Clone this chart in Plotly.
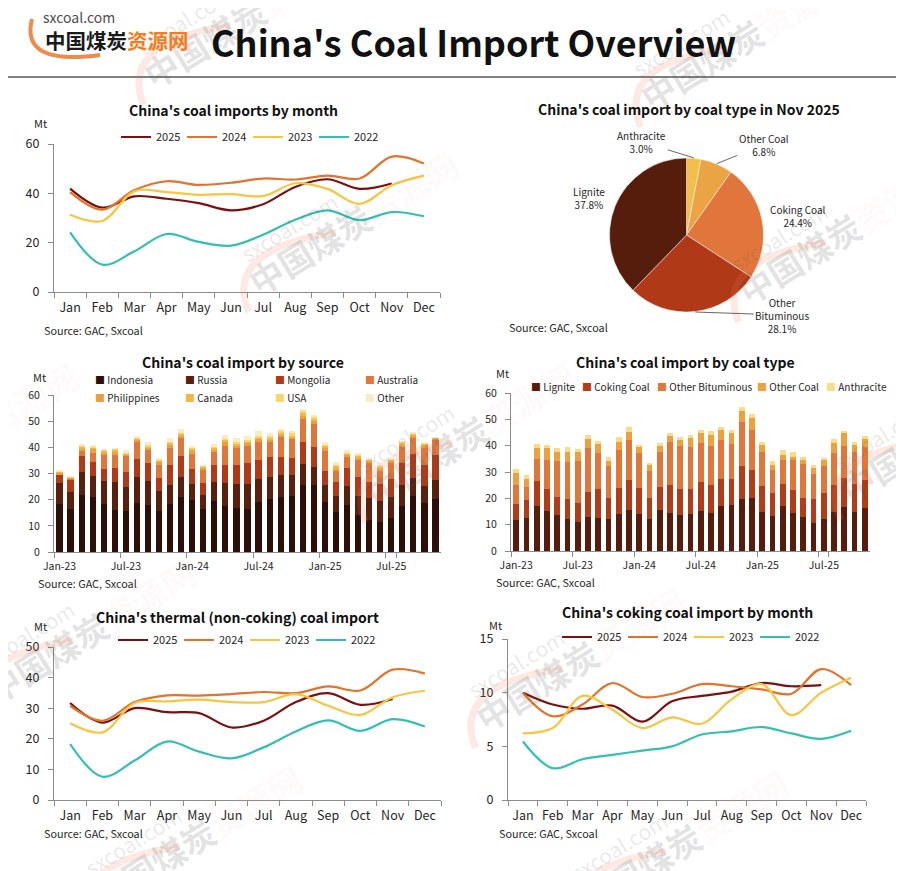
import math

import plotly.graph_objects as go

# the page adds an 8px body margin, so the figure is drawn 8px in and 16px smaller
OFF = 8
W, H = 904 - OFF, 871 - OFF


def px(x):
    return (x - OFF) / W


def py(y):
    return 1 - (y - OFF) / H


# ── Data ─────────────────────────────────────────────────────
MONTHS = ["Jan", "Feb", "Mar", "Apr", "May", "Jun",
          "Jul", "Aug", "Sep", "Oct", "Nov", "Dec"]
YEARS = ["2025", "2024", "2023", "2022"]

# total coal imports by month, Mt
imports_2025 = [41.9, 34.2, 38.8, 37.8, 36.0, 33.1, 35.6, 42.6, 45.7, 41.8, 44.0]
imports_2024 = [40.5, 33.4, 41.3, 44.9, 43.4, 44.3, 46.0, 45.6, 47.2, 46.0, 54.9, 52.1]
imports_2023 = [31.3, 28.8, 40.9, 40.5, 39.4, 39.7, 38.9, 44.1, 41.8, 35.7, 43.3, 47.2]
imports_2022 = [24.2, 11.1, 16.5, 23.5, 20.3, 18.8, 23.2, 29.3, 33.1, 29.1, 32.4, 30.7]

# thermal (non-coking) coal imports, Mt
thermal_2025 = [31.7, 25.3, 30.0, 28.7, 28.4, 23.7, 25.9, 32.0, 34.9, 31.1, 33.0]
thermal_2024 = [30.8, 25.9, 32.0, 34.2, 34.1, 34.6, 35.3, 34.9, 37.1, 35.8, 42.6, 41.3]
thermal_2023 = [25.1, 22.1, 31.7, 32.2, 32.8, 32.0, 32.0, 34.6, 30.8, 27.8, 33.6, 35.7]
thermal_2022 = [18.3, 7.6, 12.9, 19.1, 15.8, 13.6, 17.2, 22.4, 26.0, 22.6, 26.4, 24.0]

# coking coal imports, Mt
coking_2025 = [10.0, 8.9, 8.5, 8.8, 7.3, 9.2, 9.7, 10.1, 10.9, 10.6, 10.7]
coking_2024 = [10.0, 7.8, 8.9, 10.9, 9.6, 9.9, 10.8, 10.6, 10.3, 9.9, 12.2, 10.7]
coking_2023 = [6.2, 6.7, 9.7, 8.4, 6.7, 7.7, 7.1, 9.4, 10.8, 7.9, 10.0, 11.4]
coking_2022 = [5.45, 2.96, 3.8, 4.2, 4.6, 5.0, 6.1, 6.4, 6.8, 6.2, 5.7, 6.45]

# Jan-23 .. Nov-25
BAR_MONTHS = [f"{m}-{y}" for y in ("23", "24", "25") for m in MONTHS][:35]
BAR_TICKS = ["Jan-23", "Jul-23", "Jan-24", "Jul-24", "Jan-25", "Jul-25"]

# imports by source, Mt
src_indonesia = [18.3, 16.4, 21.7, 20.9, 18.3, 16.1, 15.6, 18.7, 17.9, 15.6, 18.3, 20.9,
                 19.8, 16.4, 19.4, 17.6, 16.8, 16.4, 19.0, 20.2, 20.9, 21.3, 25.5, 25.5,
                 19.0, 15.2, 17.9, 14.1, 12.2, 11.4, 12.9, 17.5, 21.3, 18.7, 20.2]
src_russia = [8.0, 6.4, 8.8, 8.0, 8.7, 10.5, 9.1, 9.9, 9.1, 7.8, 7.2, 7.7,
              6.1, 5.3, 7.2, 8.7, 9.1, 9.5, 8.8, 8.4, 8.4, 8.0, 8.0, 6.9,
              6.5, 6.1, 7.2, 7.2, 8.4, 8.0, 8.0, 8.0, 6.9, 6.4, 7.2]
src_mongolia = [3.4, 5.0, 6.0, 5.4, 4.6, 5.4, 5.8, 6.8, 6.9, 4.8, 7.6, 7.9,
                5.7, 4.6, 6.5, 6.8, 7.2, 8.0, 7.2, 7.6, 6.9, 6.5, 8.4, 7.6,
                5.3, 5.3, 6.9, 7.3, 6.0, 6.5, 6.9, 8.4, 9.1, 8.0, 9.5]
src_australia = [0.1, 0.1, 2.0, 3.6, 5.3, 4.9, 6.2, 6.9, 5.1, 4.9, 6.5, 6.9,
                 5.8, 4.9, 5.1, 7.3, 6.5, 6.8, 7.3, 6.1, 7.6, 7.2, 9.1, 9.1,
                 7.7, 4.2, 4.2, 6.8, 7.7, 5.3, 6.5, 6.6, 6.2, 6.9, 6.1]
src_philippines = [0.4, 0.4, 1.2, 1.3, 1.2, 1.3, 0.4, 0.6, 1.0, 1.3, 1.5, 1.0,
                   1.3, 0.9, 1.1, 1.5, 1.2, 0.8, 0.7, 0.7, 1.1, 0.8, 1.3, 0.9,
                   1.1, 1.2, 0.9, 0.6, 0.6, 0.7, 0.5, 0.7, 0.8, 0.6, 0.3]
src_canada = [0.4, 0.3, 0.7, 0.8, 0.6, 0.8, 0.6, 0.5, 0.5, 0.6, 0.7, 0.7,
              0.8, 0.5, 0.7, 1.0, 0.7, 0.8, 0.8, 0.7, 0.8, 0.7, 0.7, 0.8,
              0.8, 0.7, 0.7, 0.9, 0.4, 0.8, 0.5, 0.7, 0.9, 0.8, 0.4]
src_usa = [0.2, 0.1, 0.3, 0.3, 0.3, 0.4, 0.5, 0.3, 0.4, 0.4, 0.4, 0.4,
           0.5, 0.3, 0.4, 0.4, 0.4, 0.4, 0.5, 0.8, 0.7, 1.0, 1.1, 0.8,
           0.8, 0.9, 0.4, 0.5, 0.2, 0.2, 0.1, 0.3, 0.2, 0.2, 0.1]
src_other = [0.4, 0.2, 0.4, 0.4, 0.3, 0.3, 0.6, 0.5, 1.0, 0.3, 1.2, 1.6,
             0.4, 0.3, 0.7, 1.6, 1.5, 1.5, 1.8, 1.0, 0.7, 0.6, 0.6, 0.6,
             0.7, 0.7, 0.6, 0.4, 0.1, 0.2, 0.1, 0.2, 0.2, 0.2, 0.1]

# imports by coal type, Mt
typ_lignite = [11.7, 12.6, 17.0, 15.1, 13.6, 12.1, 10.9, 12.8, 12.5, 12.1, 14.0, 15.5,
               14.0, 12.1, 15.5, 14.4, 13.6, 14.0, 15.1, 14.4, 17.0, 17.4, 19.7, 20.1,
               14.7, 13.2, 17.0, 14.4, 12.8, 10.5, 12.1, 14.7, 16.6, 14.7, 16.3]
typ_coking = [6.1, 6.7, 9.6, 8.4, 6.9, 7.6, 7.3, 9.6, 11.0, 8.0, 9.9, 11.4,
              9.9, 8.0, 8.8, 10.6, 9.9, 9.5, 11.1, 10.6, 10.3, 9.9, 12.6, 10.6,
              10.0, 8.8, 8.4, 8.7, 7.3, 9.2, 9.9, 10.3, 11.1, 10.7, 10.6]
typ_other_bit = [7.2, 5.0, 8.3, 11.1, 13.7, 14.1, 16.0, 16.7, 13.7, 12.2, 14.5, 15.3,
                 13.3, 10.3, 13.3, 16.4, 16.4, 16.0, 14.8, 14.9, 14.9, 13.4, 16.7, 15.3,
                 12.9, 8.7, 9.2, 11.5, 12.9, 9.5, 10.3, 12.2, 12.2, 12.2, 12.6]
typ_other_coal = [4.7, 3.0, 4.2, 4.5, 3.4, 3.8, 3.4, 3.5, 3.5, 1.9, 3.0, 3.0,
                  2.3, 2.3, 2.3, 2.3, 2.3, 3.4, 3.9, 4.2, 3.8, 4.2, 4.2, 4.6,
                  2.7, 2.0, 1.9, 1.1, 1.6, 2.3, 2.3, 3.8, 5.0, 2.7, 3.1]
typ_anthracite = [1.4, 1.5, 1.6, 1.2, 1.4, 1.9, 1.2, 1.5, 1.1, 1.5, 1.9, 1.9,
                  0.9, 0.7, 1.1, 1.2, 1.1, 1.2, 1.1, 1.5, 1.1, 1.1, 1.6, 1.5,
                  1.1, 1.5, 1.9, 1.9, 1.1, 1.2, 0.7, 1.6, 0.7, 1.1, 1.1]

# Nov 2025 share by coal type, %
pie_labels = ["Anthracite", "Other Coal", "Coking Coal", "Other Bituminous", "Lignite"]
pie_values = [3.0, 6.8, 24.4, 28.1, 37.8]

# ── Styles ───────────────────────────────────────────────────
FONT = "Noto Sans CJK SC"
TXT = "#262626"
AXIS = "#8C8C8C"
LINE_COLORS = ["#7A1010", "#E2732A", "#F7C540", "#33BFB1"]
SRC_COLORS = ["#2E0F07", "#5A200E", "#B03A18", "#E0773A",
              "#EBA03F", "#F2B942", "#F7D66E", "#FBEBC4"]
TYP_COLORS = ["#571C0C", "#B23C17", "#E0763A", "#EBA13F", "#F9DC8A"]
PIE_COLORS = ["#F3BE4A", "#EBA444", "#E0763C", "#B03A17", "#561C0C"]

fig = go.Figure()

# ── Line panels ──────────────────────────────────────────────
line_panels = [
    ("x", "y", "legend", [imports_2025, imports_2024, imports_2023, imports_2022]),
    ("x4", "y4", "legend2", [thermal_2025, thermal_2024, thermal_2023, thermal_2022]),
    ("x5", "y5", "legend3", [coking_2025, coking_2024, coking_2023, coking_2022]),
]
for xa, ya, lg, series in line_panels:
    for year, vals, col in zip(YEARS, series, LINE_COLORS):
        fig.add_trace(go.Scatter(
            x=MONTHS[:len(vals)], y=vals, mode="lines", name=year,
            line=dict(color=col, width=2.2, shape="spline", smoothing=1),
            xaxis=xa, yaxis=ya, legend=lg, hoverinfo="x+y+name",
        ))

# ── Stacked bars: by source ──────────────────────────────────
src_names = ["Indonesia", "Russia", "Mongolia", "Australia",
             "Philippines", "Canada", "USA", "Other"]
src_series = [src_indonesia, src_russia, src_mongolia, src_australia,
              src_philippines, src_canada, src_usa, src_other]
for name, vals, col in zip(src_names, src_series, SRC_COLORS):
    fig.add_trace(go.Bar(x=BAR_MONTHS, y=vals, name=name, marker_color=col,
                         marker_line_width=0, width=0.56, showlegend=False,
                         xaxis="x2", yaxis="y2"))

# ── Stacked bars: by coal type ───────────────────────────────
typ_names = ["Lignite", "Coking Coal", "Other Bituminous", "Other Coal", "Anthracite"]
typ_series = [typ_lignite, typ_coking, typ_other_bit, typ_other_coal, typ_anthracite]
for name, vals, col in zip(typ_names, typ_series, TYP_COLORS):
    fig.add_trace(go.Bar(x=BAR_MONTHS, y=vals, name=name, marker_color=col,
                         marker_line_width=0, width=0.56, showlegend=False,
                         xaxis="x3", yaxis="y3"))

# ── Pie (labels drawn as annotations with leader lines) ──────
PIE_X0, PIE_X1, PIE_Y0, PIE_Y1 = 609, 764, 158, 312
fig.add_trace(go.Pie(
    labels=pie_labels, values=pie_values, textinfo="none",
    sort=False, direction="clockwise", rotation=0,
    marker=dict(colors=PIE_COLORS, line=dict(color="rgba(255,255,255,0.6)", width=0.8)),
    domain=dict(x=[px(PIE_X0), px(PIE_X1)], y=[py(PIE_Y1), py(PIE_Y0)]),
    showlegend=False, hoverinfo="label+percent",
))


# ── Axes ─────────────────────────────────────────────────────
def x_axis(x0, x1, anchor, cats, tickvals=None, size=12.5):
    ax = dict(domain=[px(x0), px(x1)], anchor=anchor, type="category",
              categoryorder="array", categoryarray=cats,
              range=[-0.5, len(cats) - 0.5], tickson="boundaries",
              ticks="outside", ticklen=5, tickcolor=AXIS, showline=True,
              linecolor=AXIS, linewidth=1, showgrid=False, zeroline=False,
              tickangle=0, automargin=False,
              tickfont=dict(family=FONT, size=size, color=TXT),
              ticklabelstandoff=4, fixedrange=True)
    if tickvals is not None:
        ax.update(tickmode="array", tickvals=tickvals, ticktext=tickvals)
    return ax


def y_axis(ytop, ybot, anchor, ymax, dtick, size=12.5):
    return dict(domain=[py(ybot), py(ytop)], anchor=anchor, range=[0, ymax],
                dtick=dtick, ticks="outside", ticklen=5, tickcolor=AXIS,
                showline=True, linecolor=AXIS, linewidth=1, showgrid=False,
                zeroline=False, automargin=False,
                tickfont=dict(family=FONT, size=size, color=TXT),
                ticklabelstandoff=6, fixedrange=True)


fig.update_layout(
    xaxis=x_axis(54, 440, "y", MONTHS),
    yaxis=y_axis(144, 292, "x", 60, 20),
    xaxis2=x_axis(54, 441, "y2", BAR_MONTHS, BAR_TICKS, 10.5),
    yaxis2=y_axis(395, 552, "x2", 60, 10, 10.5),
    xaxis3=x_axis(511, 870, "y3", BAR_MONTHS, BAR_TICKS, 10.5),
    yaxis3=y_axis(393, 551, "x3", 60, 10, 10.5),
    xaxis4=x_axis(54, 441, "y4", MONTHS),
    yaxis4=y_axis(647, 800, "x4", 50, 10),
    xaxis5=x_axis(508, 866, "y5", MONTHS),
    yaxis5=y_axis(639, 800, "x5", 15, 5),
)


# ── Legends for the line panels ──────────────────────────────
def line_legend(x, y):
    return dict(orientation="h", x=px(x), y=py(y), xanchor="left", yanchor="middle",
                bgcolor="rgba(0,0,0,0)", font=dict(family=FONT, size=11, color=TXT),
                entrywidth=21, entrywidthmode="pixels", traceorder="normal",
                itemclick=False, itemdoubleclick=False)


fig.update_layout(
    legend=line_legend(116, 137),
    legend2=line_legend(113, 640),
    legend3=line_legend(557, 637),
)

ann = []
shapes = []

# ── Background watermarks (tilted site logo) ─────────────────
WM_ANGLE = math.radians(31.5)
WM_UX, WM_UY = math.cos(WM_ANGLE), -math.sin(WM_ANGLE)   # along the text
WM_PX, WM_PY = -math.sin(WM_ANGLE), -math.cos(WM_ANGLE)  # "up" from the text
wm_centres = [(248, 15), (745, 37), (353, 222), (843, 232), (-27, 433),
              (470, 433), (945, 430), (90, 630), (580, 658), (197, 836), (683, 841)]


def rot(cx, cy, a, b):
    return cx + a * WM_UX + b * WM_PX, cy + a * WM_UY + b * WM_PY


for cx, cy in wm_centres:
    ann.append(dict(
        x=px(cx), y=py(cy), xref="paper", yref="paper", showarrow=False,
        textangle=-31.5, xanchor="center", yanchor="middle",
        text='<b>中国煤炭<span style="color:rgba(240,110,70,0.27)">资源网</span></b>',
        font=dict(family=FONT, size=34, color="rgba(80,80,80,0.17)"),
    ))
    sx, sy = rot(cx, cy, -57, 29)
    ann.append(dict(
        x=px(sx), y=py(sy), xref="paper", yref="paper", showarrow=False,
        textangle=-31.5, xanchor="center", yanchor="middle", text="sxcoal.com",
        font=dict(family=FONT, size=21, color="rgba(80,80,80,0.13)"),
    ))
    p0 = rot(cx, cy, -136, -22)
    c1 = rot(cx, cy, -125, 45)
    p1 = rot(cx, cy, -20, 0)
    shapes.append(dict(
        type="path", xref="paper", yref="paper", layer="above",
        path=(f"M {px(p0[0])},{py(p0[1])} Q {px(c1[0])},{py(c1[1])} "
              f"{px(p1[0])},{py(p1[1])}"),
        line=dict(color="rgba(240,120,80,0.16)", width=7),
    ))


# ── Text ─────────────────────────────────────────────────────
def text(x, y, s, size=11, bold=False, xanchor="left", color=TXT, family=FONT):
    ann.append(dict(x=px(x), y=py(y), xref="paper", yref="paper", showarrow=False,
                    text=f"<b>{s}</b>" if bold else s, xanchor=xanchor, yanchor="middle",
                    font=dict(family=family, size=size, color=color)))


text(209, 41, "China's Coal Import Overview", size=36, bold=True, color="#111111")
text(41, 17.5, "sxcoal.com", size=14, color="#4D4D4D")
text(43, 40, '中国煤炭<span style="color:#F47B20">资源网</span>', size=20.5, bold=True,
     color="#1A1A1A")

TITLE = 14
text(233, 110, "China's coal imports by month", TITLE, True, "center", "#111111")
text(689, 109, "China's coal import by coal type in Nov 2025", TITLE, True, "center", "#111111")
text(243, 362, "China's coal import by source", TITLE, True, "center", "#111111")
text(685, 362, "China's coal import by coal type", TITLE, True, "center", "#111111")
text(238, 617, "China's thermal (non-coking) coal import", TITLE, True, "center", "#111111")
text(687, 612, "China's coking coal import by month", TITLE, True, "center", "#111111")

for x, y in [(40, 123), (39, 377), (502, 373), (40, 626), (495, 625)]:
    text(x, y, "Mt", 11, xanchor="center")

for x, y in [(42, 330), (507, 327), (36, 583), (494, 582), (42, 833), (497, 833)]:
    text(x, y, "Source: GAC, Sxcoal", 10.8)

# legend rows for the bar panels
src_legend_pos = [(93, 379), (183, 379), (273, 379), (363, 379),
                  (93, 397), (183, 397), (273, 397), (363, 397)]
for (x, y), name, col in zip(src_legend_pos, src_names, SRC_COLORS):
    text(x, y, f'<span style="color:{col}">■</span> {name}', 10)

typ_legend_pos = [(529, 386), (580, 386), (655, 386), (755, 386), (824, 386)]
for (x, y), name, col in zip(typ_legend_pos, typ_names, TYP_COLORS):
    text(x, y, f'<span style="color:{col}">■</span> {name}', 10)

# pie labels: leader lines start on the rim at each slice's mid-angle
cx, cy = (PIE_X0 + PIE_X1) / 2, (PIE_Y0 + PIE_Y1) / 2
rad = (PIE_X1 - PIE_X0) / 2
label_offsets = {  # label centre relative to rim point, px
    "Anthracite": (-52, -16, True),
    "Other Coal": (47, -19, True),
    "Coking Coal": (35, -4, False),
    "Other Bituminous": (87, 3, True),
    "Lignite": (-26, -8, False),
}
total = sum(pie_values)
cum = 0.0
for lab, val in zip(pie_labels, pie_values):
    theta = 2 * math.pi * (cum + val / 2) / total
    cum += val
    rx = cx + rad * math.sin(theta)
    ry = cy - rad * math.cos(theta)
    dx, dy, line = label_offsets[lab]
    ann.append(dict(
        x=px(rx), y=py(ry), xref="paper", yref="paper",
        text=f"{lab.replace('Other Bituminous', 'Other<br>Bituminous')}<br>{val:.1f}%",
        showarrow=True, arrowhead=0, arrowwidth=0.8,
        arrowcolor="#404040" if line else "rgba(0,0,0,0)",
        ax=dx, ay=dy, standoff=0, startstandoff=0,
        font=dict(family=FONT, size=10, color=TXT), align="center",
    ))

# ── Shapes: header rule and logo swoosh ──────────────────────
shapes += [
    dict(type="line", xref="paper", yref="paper", x0=px(0), x1=px(904),
         y0=py(77), y1=py(77), line=dict(color="#7F7F7F", width=2)),
    dict(type="path", xref="paper", yref="paper",
         path=f"M {px(32)},{py(19)} Q {px(20)},{py(66)} {px(100)},{py(55)}",
         line=dict(color="#F08A4B", width=4)),
]

fig.update_layout(
    width=W, height=H, margin=dict(l=0, r=0, t=0, b=0, autoexpand=False),
    paper_bgcolor="white", plot_bgcolor="white",
    barmode="stack", bargap=0.45,
    font=dict(family=FONT, color=TXT),
    annotations=ann, shapes=shapes,
    hovermode="closest",
)

fig.write_html("out.html")
